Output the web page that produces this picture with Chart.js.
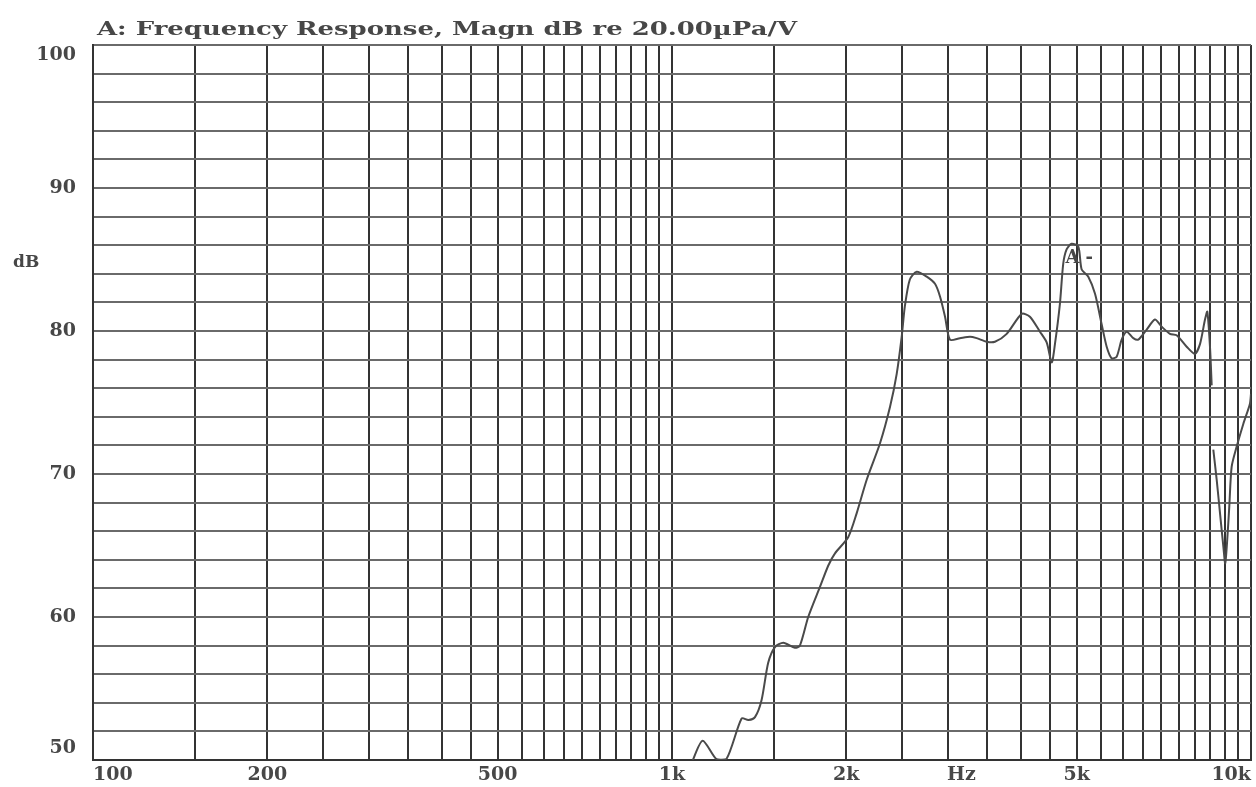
<!DOCTYPE html>
<html>
<head>
<meta charset="utf-8">
<script src="https://cdn.jsdelivr.net/npm/chart.js@4.4.1/dist/chart.umd.min.js"></script>
<style>
  html, body { margin: 0; padding: 0; background: #fff; }
  #wrap { width: 1256px; height: 787px; position: relative; }
</style>
</head>
<body>
<div id="wrap"><canvas id="freqChart"></canvas></div>
<script>
// Frequency response trace (Hz / dB)
const freqs = [1060, 1087, 1130, 1194, 1243, 1319, 1355, 1391, 1428, 1466,
  1506, 1557, 1630, 1663, 1719, 1801, 1862, 1912, 2016, 2084,
  2169, 2287, 2380, 2444, 2493, 2524, 2575, 2646, 2754, 2846,
  2904, 2962, 3020, 3142, 3271, 3358, 3496, 3612, 3785, 4018,
  4151, 4320, 4437, 4527, 4586, 4677, 4739, 4803, 4899, 5032,
  5100, 5236, 5378, 5520, 5633, 5744, 5861, 5979, 6100, 6262,
  6387, 6603, 6825, 7010, 7245, 7441, 7743, 8000, 8166, 8328,
  8405, 8495, 8553, 8580, 8608, 8724, 8841, 8960, 9026, 9098,
  9172, 9259, 9444, 9698, 9955, 10000];
const magnDb = [48.5, 50.0, 51.35, 50.05, 50.1, 52.9, 52.8, 53.0, 54.2, 56.8,
  57.9, 58.2, 57.85, 58.0, 60.0, 62.1, 63.6, 64.45, 65.6, 67.25,
  69.6, 72.15, 74.7, 77.0, 79.6, 81.7, 83.6, 84.15, 83.8, 83.3,
  82.4, 81.0, 79.4, 79.5, 79.6, 79.5, 79.25, 79.25, 79.8, 81.2,
  81.0, 79.95, 79.2, 77.8, 79.1, 81.9, 84.7, 85.7, 86.1, 85.9,
  84.3, 83.8, 82.6, 80.5, 78.9, 78.1, 78.2, 79.4, 79.95, 79.5,
  79.4, 80.1, 80.8, 80.3, 79.8, 79.7, 78.9, 78.4, 79.1, 80.8,
  81.35, 78.9, 76.2, null, 71.7, 69.6, 67.25, 64.9, 63.75, 65.4,
  67.7, 70.5, 71.9, 73.5, 74.9, 75.6];

// Axis labels
const xTickValues = [100, 200, 500, 1000, 2000, 3162, 5000, 10000];
const xTickLabels = ['100', '200', '500', '1k', '2k', 'Hz', '5k', '10k'];
const yTickLabels = [50, 60, 70, 80, 90, 100];

const titleText = 'A: Frequency Response, Magn dB re 20.00\u00b5Pa/V';
const labelFont = { family: 'DejaVu Serif', size: 19, weight: 'bold' };
const textColor = '#474747';

// Grid lines every 50 Hz below 1k and every 500 Hz above
let xGrid = [100];
for (let f = 150; f <= 1000; f += 50) xGrid.push(f);
for (let f = 1500; f <= 10000; f += 500) xGrid.push(f);
xGrid.push(3162);
xGrid.sort((a, b) => a - b);

const points = freqs.map((f, i) => ({ x: f, y: magnDb[i] }));

// Title, dB labels and the trace marker are drawn on top of the chart
const textPlugin = {
  id: 'analyzerText',
  afterDraw(chart) {
    const ctx = chart.ctx;
    const area = chart.chartArea;
    const yScale = chart.scales.y;
    const xScale = chart.scales.x;
    ctx.save();
    ctx.fillStyle = textColor;
    ctx.textBaseline = 'middle';
    ctx.font = 'bold 19px "DejaVu Serif"';

    // Title stretched to the wide screen font of the analyzer
    const w = ctx.measureText(titleText).width;
    ctx.save();
    ctx.translate(area.left + 4, 30);
    ctx.scale(700 / w, 1);
    ctx.fillText(titleText, 0, 0);
    ctx.restore();

    // y labels, kept inside the plot frame like the analyzer does
    ctx.textAlign = 'right';
    yTickLabels.forEach(v => {
      let y = yScale.getPixelForValue(v);
      y = Math.min(Math.max(y, area.top + 10), area.bottom - 12);
      ctx.fillText(String(v), area.left - 17, y);
    });

    ctx.textAlign = 'left';
    ctx.font = 'bold 17px "DejaVu Serif"';
    ctx.fillText('dB', 13, yScale.getPixelForValue(85) + 3);

    ctx.font = 'bold 18px "DejaVu Serif"';
    ctx.fillText('A', xScale.getPixelForValue(4780), yScale.getPixelForValue(85.1));
    ctx.fillText('-', xScale.getPixelForValue(5180), yScale.getPixelForValue(85.1));
    ctx.restore();
  }
};

const ctx = document.getElementById('freqChart').getContext('2d');

new Chart(ctx, {
  type: 'line',
  data: {
    datasets: [{
      data: points,
      borderColor: '#4a4a4a',
      borderWidth: 2,
      pointRadius: 0,
      tension: 0.25,
      spanGaps: false,
      fill: false
    }]
  },
  options: {
    responsive: true,
    maintainAspectRatio: false,
    animation: false,
    layout: { padding: { top: 45, right: 5, left: 0, bottom: 0 } },
    plugins: {
      legend: { display: false },
      title: { display: false },
      tooltip: { enabled: false }
    },
    scales: {
      x: {
        type: 'logarithmic',
        min: 100,
        max: 10000,
        afterBuildTicks: scale => {
          scale.ticks = xGrid.map(v => ({ value: v }));
        },
        afterFit: scale => { scale.height = 27; },
        grid: {
          drawTicks: false,
          lineWidth: 2,
          color: c => (c.tick && c.tick.value === 3162) ? 'rgba(0,0,0,0)' : '#333'
        },
        border: { color: '#333', width: 2 },
        ticks: {
          autoSkip: false,
          maxRotation: 0,
          align: 'inner',
          padding: 4,
          color: textColor,
          font: labelFont,
          callback: value => {
            const i = xTickValues.indexOf(value);
            return i >= 0 ? xTickLabels[i] : '';
          }
        }
      },
      y: {
        type: 'linear',
        min: 50,
        max: 100,
        afterFit: scale => { scale.width = 93; },
        grid: {
          drawTicks: false,
          lineWidth: 2,
          color: '#6a6a6a'
        },
        border: { color: '#333', width: 2 },
        ticks: {
          stepSize: 2,
          autoSkip: false,
          display: false
        }
      }
    }
  },
  plugins: [textPlugin]
});
</script>
</body>
</html>
